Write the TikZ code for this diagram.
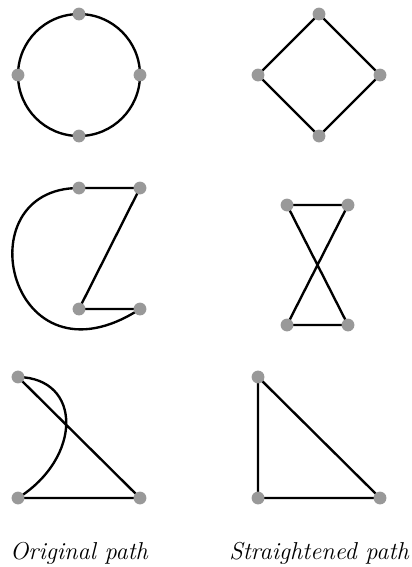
\documentclass[tikz,border=0pt]{standalone}
\begin{document}
\begin{tikzpicture}[line width=1.1pt,
	dot/.style={circle, fill=black!40, inner sep=0pt, minimum size=0.21cm},
	caption/.style={font=\fontsize{11.4}{13}\selectfont\itshape}]
	\useasboundingbox (0,0) rectangle (6.754,-9.295);
	% circle and diamond
	\coordinate (ca) at (1.295,-0.23);
	\coordinate (cb) at (0.295,-1.23);
	\coordinate (cc) at (1.295,-2.23);
	\coordinate (cd) at (2.295,-1.23);
	\coordinate (da) at (5.23,-0.23);
	\coordinate (db) at (4.23,-1.23);
	\coordinate (dc) at (5.23,-2.23);
	\coordinate (dd) at (6.23,-1.23);
	\draw (1.295,-1.23) circle[radius=1];
	\draw (da) -- (db) -- (dc) -- (dd) -- cycle;
	% curve and crossing
	\coordinate (za) at (1.295,-3.082);
	\coordinate (zb) at (2.295,-3.082);
	\coordinate (zc) at (1.295,-5.066);
	\coordinate (zd) at (2.295,-5.066);
	\coordinate (xa) at (4.705,-3.361);
	\coordinate (xb) at (5.705,-3.361);
	\coordinate (xc) at (4.705,-5.328);
	\coordinate (xd) at (5.705,-5.328);
	\draw (za) -- (zb) -- (zc) -- (zd) .. controls (0.15,-6.45) and (-0.62,-3.082) .. (za);
	\draw (xa) -- (xb) -- (xc) -- (xd) -- cycle;
	% triangles
	\coordinate (ta) at (0.295,-6.18);
	\coordinate (tb) at (0.295,-8.164);
	\coordinate (tc) at (2.295,-8.164);
	\coordinate (sa) at (4.23,-6.18);
	\coordinate (sb) at (4.23,-8.164);
	\coordinate (sc) at (6.23,-8.164);
	\draw (ta) .. controls (1.35,-6.2) and (1.35,-7.5) .. (tb) -- (tc) -- (ta);
	\draw (sa) -- (sb) -- (sc) -- cycle;
	% dots
	\foreach \p in {ca,cb,cc,cd,da,db,dc,dd,za,zb,zc,zd,xa,xb,xc,xd,ta,tb,tc,sa,sb,sc}
		\node[dot] (n\p) at (\p) {};
	\node[caption] (orig) at (1.295,-9.066) {Original path};
	\node[caption] (strt) at (5.23,-9.066) {Straightened path};
\end{tikzpicture}
\end{document}
